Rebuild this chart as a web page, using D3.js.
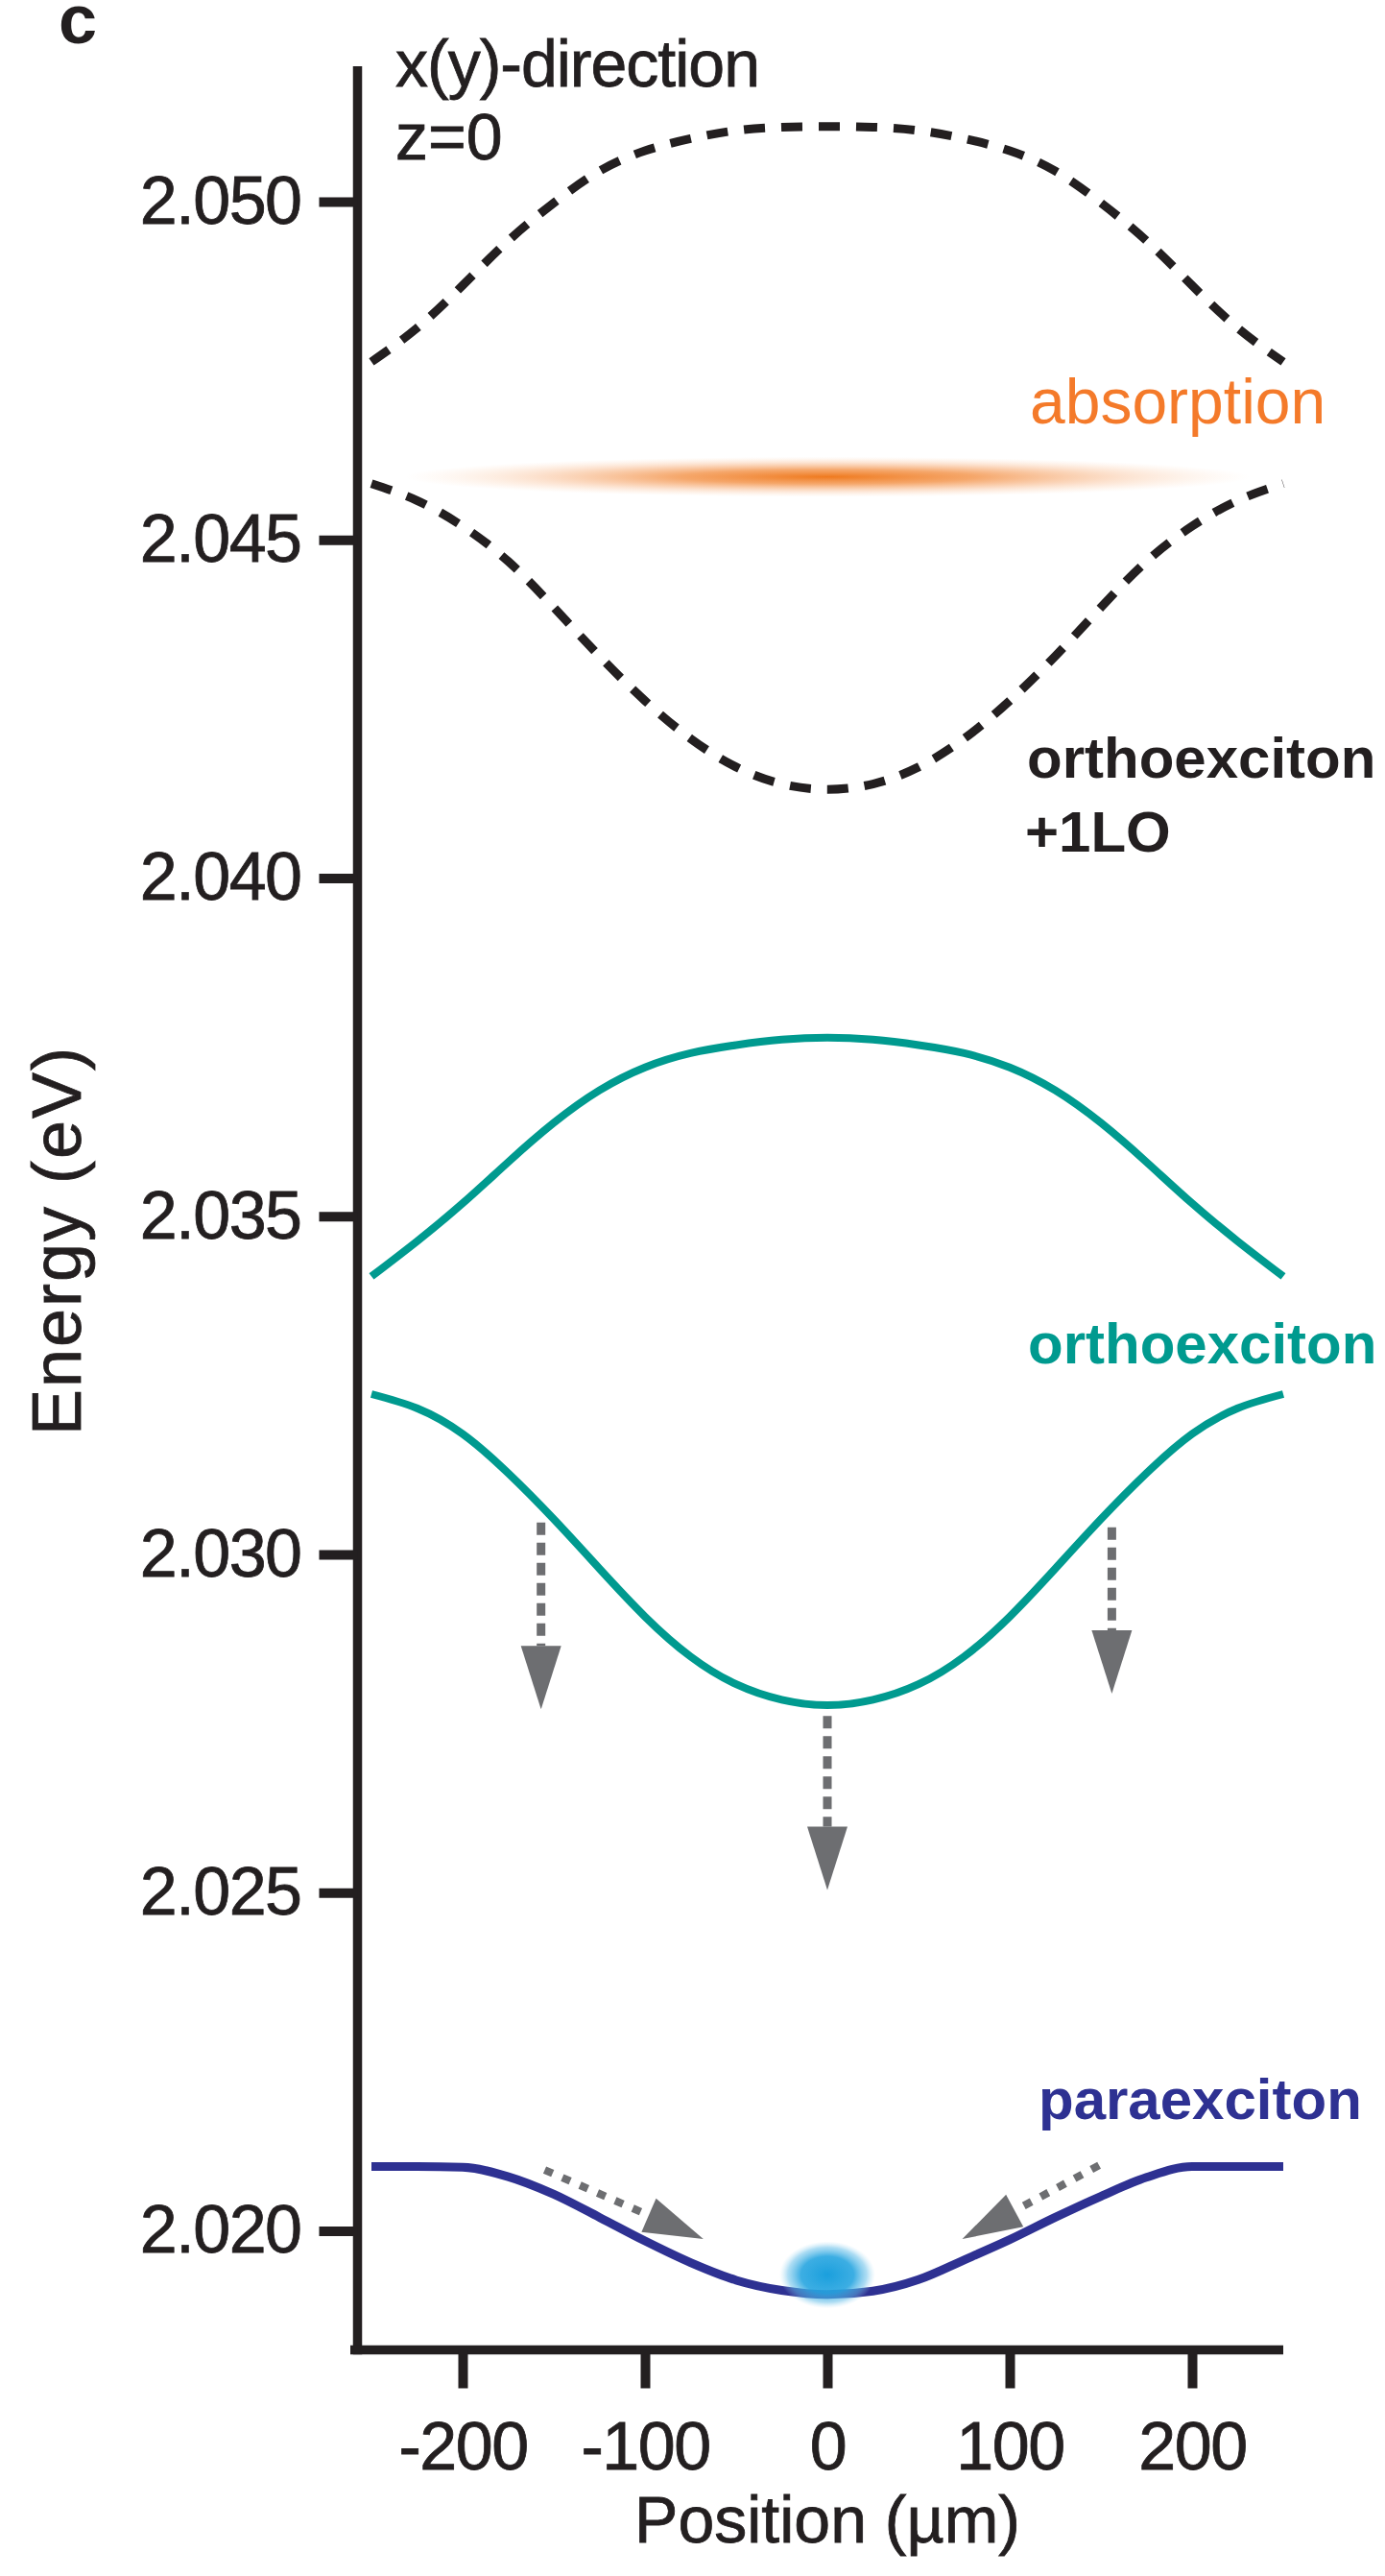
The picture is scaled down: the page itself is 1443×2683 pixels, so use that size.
<!DOCTYPE html>
<html>
<head>
<meta charset="utf-8">
<script src="https://cdn.jsdelivr.net/npm/d3@7"></script>
<style>
  html, body { margin: 0; padding: 0; background: #ffffff; }
  svg { display: block; }
  text { font-family: "Liberation Sans", Arial, Helvetica, sans-serif; }
</style>
</head>
<body>
<svg id="chart" width="1443" height="2683"></svg>
<script>
// Position along x(y), in micrometres
const positions = [-250, -225, -200, -175, -150, -125, -100, -75, -50, -25, 0,
                   25, 50, 75, 100, 125, 150, 175, 200, 225, 250];

// Orthoexciton + 1LO phonon band, upper and lower branch (eV)
const loUpper = [2.04763, 2.04813, 2.04876, 2.04942, 2.04998, 2.05045, 2.05075, 2.05093, 2.05105, 2.05110, 2.05111,
                 2.05110, 2.05105, 2.05093, 2.05075, 2.05045, 2.04998, 2.04942, 2.04876, 2.04813, 2.04763];
const loLower = [2.04583, 2.04558, 2.04520, 2.04468, 2.04400, 2.04328, 2.04262, 2.04206, 2.04164, 2.04139, 2.04131,
                 2.04139, 2.04164, 2.04206, 2.04262, 2.04328, 2.04400, 2.04468, 2.04520, 2.04558, 2.04583];

// Orthoexciton, upper and lower branch (eV)
const orthoUpper = [2.03411, 2.03463, 2.03519, 2.03580, 2.03638, 2.03686, 2.03720, 2.03741, 2.03753, 2.03761, 2.03764,
                    2.03761, 2.03753, 2.03741, 2.03720, 2.03686, 2.03638, 2.03580, 2.03519, 2.03463, 2.03411];
const orthoLower = [2.03237, 2.03216, 2.03178, 2.03120, 2.03052, 2.02979, 2.02908, 2.02849, 2.02808, 2.02785, 2.02777,
                    2.02785, 2.02808, 2.02849, 2.02908, 2.02979, 2.03052, 2.03120, 2.03178, 2.03216, 2.03237];

// Paraexciton trap (eV)
const para = [2.02095, 2.02095, 2.02094, 2.02080, 2.02054, 2.02020, 2.01985, 2.01953, 2.01927, 2.01912, 2.01906,
              2.01911, 2.01928, 2.01957, 2.01987, 2.02020, 2.02051, 2.02079, 2.02095, 2.02095, 2.02095];

// Absorption line energy and the paraexciton cloud at the trap centre
const absorptionEnergy = 2.04593;
const cloudCentre = { x: 0, e: 2.01935 };

// Relaxation arrows: ortho -> lower states (start and tip, µm / eV)
const decayArrows = [
  { x0: -157, e0: 2.03047, x1: -157, e1: 2.02771 },
  { x0: 0,    e0: 2.02761, x1: 0,    e1: 2.02504 },
  { x0: 156,  e0: 2.03040, x1: 156,  e1: 2.02794 }
];
// Drift arrows along the paraexciton trap
const driftArrows = [
  { x0: -155, e0: 2.02090, x1: -68, e1: 2.01988 },
  { x0: 149,  e0: 2.02097, x1: 74,  e1: 2.01988 }
];

// Axis ticks
const xTicks = [-200, -100, 0, 100, 200];
const yTicks = [2.020, 2.025, 2.030, 2.035, 2.040, 2.045, 2.050];

// ---------------------------------------------------------------------------
const INK = "#231f20";
const TEAL = "#009a8f";
const PARA = "#2e3192";
const ORANGE = "#f47a2a";
const GREY = "#6d6e71";

const svg = d3.select("#chart");
const defs = svg.append("defs");

const x = d3.scaleLinear().domain([-260, 250]).range([368, 1337]);
const y = d3.scaleLinear().domain([2.01824, 2.052]).range([2447.5, 69]);

const smoothLine = d3.line()
  .x(d => x(d[0]))
  .y(d => y(d[1]))
  .curve(d3.curveNatural);

const trapLine = d3.line()
  .x(d => x(d[0]))
  .y(d => y(d[1]))
  .curve(d3.curveMonotoneX);

const zipSeries = vals => positions.map((p, i) => [p, vals[i]]);

// Absorption glow
const glow = defs.append("radialGradient").attr("id", "absGlow");
glow.append("stop").attr("offset", "0%").attr("stop-color", "#ef7a1f").attr("stop-opacity", 1);
glow.append("stop").attr("offset", "35%").attr("stop-color", "#f28a3a").attr("stop-opacity", 0.75);
glow.append("stop").attr("offset", "70%").attr("stop-color", "#f6a062").attr("stop-opacity", 0.3);
glow.append("stop").attr("offset", "100%").attr("stop-color", "#fbc59a").attr("stop-opacity", 0);

svg.append("ellipse")
  .attr("cx", x(0))
  .attr("cy", y(absorptionEnergy))
  .attr("rx", 440)
  .attr("ry", 21)
  .attr("fill", "url(#absGlow)");

// Dashed 1LO bands
[loUpper, loLower].forEach(vals => {
  svg.append("path")
    .datum(zipSeries(vals))
    .attr("d", smoothLine)
    .attr("fill", "none")
    .attr("stroke", INK)
    .attr("stroke-width", 9)
    .attr("stroke-dasharray", "22,17");
});

// Orthoexciton bands
[orthoUpper, orthoLower].forEach(vals => {
  svg.append("path")
    .datum(zipSeries(vals))
    .attr("d", smoothLine)
    .attr("fill", "none")
    .attr("stroke", TEAL)
    .attr("stroke-width", 8);
});

// Paraexciton trap
svg.append("path")
  .datum(zipSeries(para))
  .attr("d", trapLine)
  .attr("fill", "none")
  .attr("stroke", PARA)
  .attr("stroke-width", 9);

// Paraexciton cloud
const cloud = defs.append("radialGradient").attr("id", "cloudGlow");
cloud.append("stop").attr("offset", "0%").attr("stop-color", "#1a9fdd").attr("stop-opacity", 1);
cloud.append("stop").attr("offset", "55%").attr("stop-color", "#27a5e0").attr("stop-opacity", 0.9);
cloud.append("stop").attr("offset", "82%").attr("stop-color", "#5cbbe8").attr("stop-opacity", 0.5);
cloud.append("stop").attr("offset", "100%").attr("stop-color", "#a8dbf3").attr("stop-opacity", 0);

svg.append("ellipse")
  .attr("cx", x(cloudCentre.x))
  .attr("cy", y(cloudCentre.e))
  .attr("rx", 50)
  .attr("ry", 35)
  .attr("fill", "url(#cloudGlow)");

// Arrows: dashed shaft plus triangular head, built in screen space
function drawArrow(a, dash, width, headLen, headHalf) {
  const p0 = [x(a.x0), y(a.e0)];
  const p1 = [x(a.x1), y(a.e1)];
  const dx = p1[0] - p0[0], dy = p1[1] - p0[1];
  const len = Math.hypot(dx, dy);
  const ux = dx / len, uy = dy / len;
  const bx = p1[0] - ux * headLen, by = p1[1] - uy * headLen;
  svg.append("line")
    .attr("x1", p0[0]).attr("y1", p0[1])
    .attr("x2", bx).attr("y2", by)
    .attr("stroke", GREY)
    .attr("stroke-width", width)
    .attr("stroke-dasharray", dash);
  svg.append("path")
    .attr("d", `M${p1[0]},${p1[1]} L${bx - uy * headHalf},${by + ux * headHalf} L${bx + uy * headHalf},${by - ux * headHalf} Z`)
    .attr("fill", GREY);
}
decayArrows.forEach(a => drawArrow(a, "13,8", 9, 66, 21));
driftArrows.forEach(a => drawArrow(a, "9,11", 8, 62, 19));

// Axes
const yAxis = d3.axisLeft(y)
  .tickValues(yTicks)
  .tickFormat(d3.format(".3f"))
  .tickSizeInner(40)
  .tickSizeOuter(0)
  .tickPadding(19);

const gy = svg.append("g")
  .attr("transform", `translate(${372.5},0)`)
  .call(yAxis);

const xAxis = d3.axisBottom(x)
  .tickValues(xTicks)
  .tickFormat(d => String(d))
  .tickSizeInner(40)
  .tickSizeOuter(0)
  .tickPadding(35);

const gx = svg.append("g")
  .attr("transform", `translate(0,${y.range()[0]})`)
  .call(xAxis);

[gx, gy].forEach(g => {
  g.select(".domain").attr("stroke", INK).attr("stroke-width", 9.5);
  g.selectAll(".tick line").attr("stroke", INK).attr("stroke-width", 10);
  g.selectAll(".tick text")
    .attr("fill", INK)
    .attr("stroke", INK)
    .attr("stroke-width", 0.8)
    .style("font-size", "70px")
    .style("letter-spacing", "-1.5px");
});
// y-axis line reaches down through the x-axis corner
gy.select(".domain").attr("d", `M0,${y.range()[1]}V${y.range()[0] + 4.75}`);
gx.select(".domain").attr("d", `M${x.range()[0] - 3},0H${x.range()[1]}`);

// Axis titles
svg.append("text")
  .attr("x", x(0))
  .attr("y", 2648)
  .attr("text-anchor", "middle")
  .attr("fill", INK)
  .attr("stroke", INK).attr("stroke-width", 0.8)
  .style("font-size", "68px")
  .text("Position (µm)");

svg.append("text")
  .attr("transform", `translate(84,${1292}) rotate(-90)`)
  .attr("text-anchor", "middle")
  .attr("fill", INK)
  .attr("stroke", INK).attr("stroke-width", 0.8)
  .style("font-size", "72px")
  .style("letter-spacing", "2px")
  .text("Energy (eV)");

// Panel letter and annotations
svg.append("text")
  .attr("x", 61).attr("y", 45)
  .attr("fill", INK)
  .style("font-size", "72px").style("font-weight", "bold")
  .text("c");

svg.append("text")
  .attr("x", 412).attr("y", 89.5)
  .attr("fill", INK)
  .attr("stroke", INK).attr("stroke-width", 0.8)
  .style("font-size", "68px")
  .style("letter-spacing", "-1px")
  .text("x(y)-direction");

svg.append("text")
  .attr("x", 412).attr("y", 166)
  .attr("fill", INK)
  .attr("stroke", INK).attr("stroke-width", 0.8)
  .style("font-size", "68px")
  .text("z=0");

svg.append("text")
  .attr("x", 1073).attr("y", 441)
  .attr("fill", ORANGE)
  .style("font-size", "66px")
  .text("absorption");

svg.append("text")
  .attr("x", 1070).attr("y", 810)
  .attr("fill", INK)
  .style("font-size", "60px").style("font-weight", "bold")
  .text("orthoexciton");

svg.append("text")
  .attr("x", 1068).attr("y", 887)
  .attr("fill", INK)
  .style("font-size", "60px").style("font-weight", "bold")
  .text("+1LO");

svg.append("text")
  .attr("x", 1071).attr("y", 1420)
  .attr("fill", TEAL)
  .style("font-size", "60px").style("font-weight", "bold")
  .text("orthoexciton");

svg.append("text")
  .attr("x", 1082).attr("y", 2207)
  .attr("fill", PARA)
  .style("font-size", "60px").style("font-weight", "bold")
  .text("paraexciton");
</script>
</body>
</html>
